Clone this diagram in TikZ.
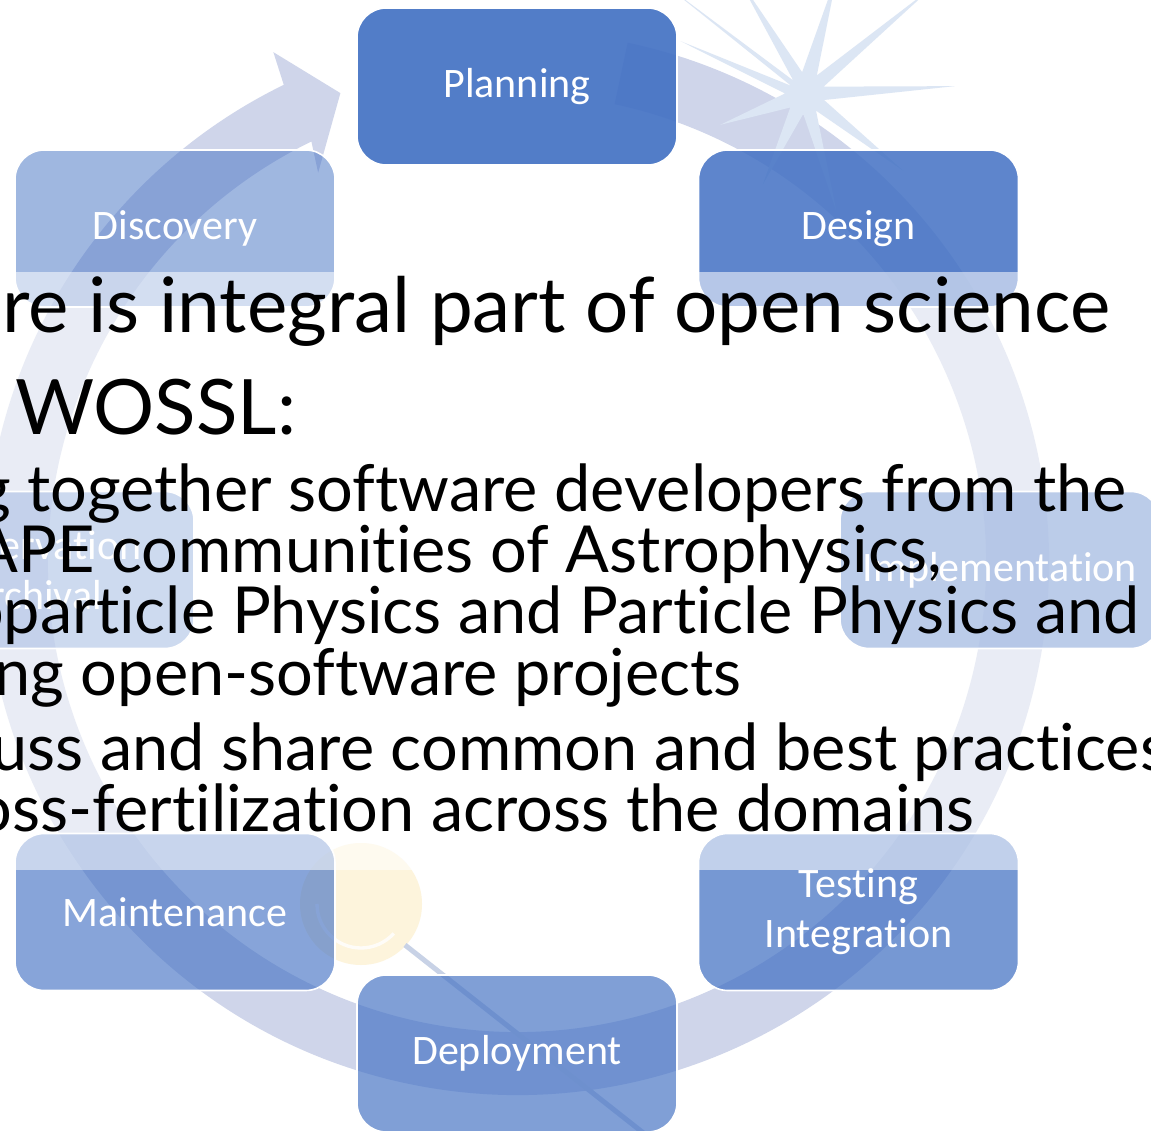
\documentclass[tikz,border=0pt]{standalone}
\usepackage{fontspec}
\setmainfont{Lato}[Ligatures=NoCommon]
\newfontfamily\calib{Carlito}[Ligatures=NoCommon]
\usetikzlibrary{calc}
\definecolor{nodeblue}{HTML}{4472C4}
\definecolor{ringc}{HTML}{CFD5EA}
\definecolor{burst}{HTML}{DCE6F4}
\definecolor{lens}{HTML}{FDF4DC}
\definecolor{handlec}{HTML}{C8D2E6}
\newsavebox\lnA
\newsavebox\lnB
\begin{document}
\sbox\lnA{\fontsize{50}{60}\selectfont re is integral part of open science}%
\sbox\lnB{\fontsize{50}{60}\selectfont together software developers from the}%
\pgfmathsetmacro\sA{831/\the\wd\lnA}%
\pgfmathsetmacro\sB{824.25/\the\wd\lnB}%
\begin{tikzpicture}[x=0.75pt,y=0.75pt,
  cyc/.style={rectangle, rounded corners=22pt, minimum width=240pt, minimum height=117.75pt,
    inner sep=0pt, draw=white, line width=1.2pt, fill=nodeblue, text=white, text opacity=1,
    font=\calib\fontsize{31.5}{37.5}\selectfont, align=center},
  txt/.style={inner sep=0pt, text=black}]
\useasboundingbox (0,0) rectangle (1151,1132);
\clip (0,0) rectangle (1151,1132);
\fill[white] (0,0) rectangle (1151,1132);
\coordinate (C) at (517,569);
% cycle arrow
\fill[ringc] ([shift={(C)}]78:532) arc[start angle=78,end angle=-244,radius=532]
  -- ([shift={(C)}]-244.5:566) -- ([shift={(C)}]-249.4:502) -- ([shift={(C)}]-243:438)
  -- ([shift={(C)}]-244:469) arc[start angle=-244,end angle=78,radius=469] -- cycle;
% starburst
\fill[burst, shift={(805,1038)}] (-160:90) -- (-137.5:20) -- (-115:100) -- (-95:20) -- (-75:120)
  -- (-56.5:20) -- (-38:125) -- (-17.5:20) -- (3:150) -- (21.5:20) -- (40:165) -- (57.5:22)
  -- (75:125) -- (97.5:22) -- (120:135) -- (131:18) -- (142:175) -- (149.5:16) -- (157:135)
  -- (178.5:20) -- cycle;
% magnifier
\fill[lens] (361,228) circle[radius=61];
\draw[white, line width=2.5pt, opacity=0.8] ([shift={(361,228)}]180:44) arc[start angle=180,end angle=318,radius=44];
\draw[handlec, line width=3.75pt] (405,187) -- (665,-18);
% cycle nodes
\node[cyc, fill opacity=0.92] (plan) at (517,1045.5) {Planning};
\node[cyc, fill opacity=0.86] (design) at (858.5,903.5) {Design};
\node[cyc, fill opacity=0.80] (impl) at (1000,562) {Implementation};
\node[cyc, fill opacity=0.73] (test) at (858.5,220) {Testing\\Integration};
\node[cyc, fill opacity=0.68] (deploy) at (517,78.5) {Deployment};
\node[cyc, fill opacity=0.64] (maint) at (175,220) {Maintenance};
\node[cyc, fill opacity=0.58] (pres) at (34,562) {Preservation\\Archival};
\node[cyc, fill opacity=0.51] (disc) at (175,903.5) {Discovery};
% text backdrop
\fill[white, opacity=0.55] (0,262) rectangle (1151,860);
% text
\node[txt, anchor=base west] (t1) at (2,799) {\scalebox{\sA}{\usebox\lnA}};
\node[txt, anchor=base west] (t2) at (15,697) {\scalebox{\sA}{\fontsize{50}{60}\selectfont WOSSL:}};
\node[txt, anchor=base east] (t3) at (1127,620) {\scalebox{\sB}{\fontsize{50}{60}\selectfont g together software developers from the}};
\node[txt, anchor=base east] (t4) at (942,559) {\scalebox{\sB}{\fontsize{50}{60}\selectfont APE communities of Astrophysics,}};
\node[txt, anchor=base east] (t5) at (1140,498) {\scalebox{\sB}{\fontsize{50}{60}\selectfont oparticle Physics and Particle Physics and}};
\node[txt, anchor=base east] (t6) at (742,437) {\scalebox{\sB}{\fontsize{50}{60}\selectfont ng open-software projects}};
\node[txt, anchor=base west] (t7) at (-9,362) {\scalebox{\sB}{\fontsize{50}{60}\selectfont uss and share common and best practices}};
\node[txt, anchor=base east] (t8) at (975,301) {\scalebox{\sB}{\fontsize{50}{60}\selectfont oss-fertilization across the domains}};
\end{tikzpicture}
\end{document}
